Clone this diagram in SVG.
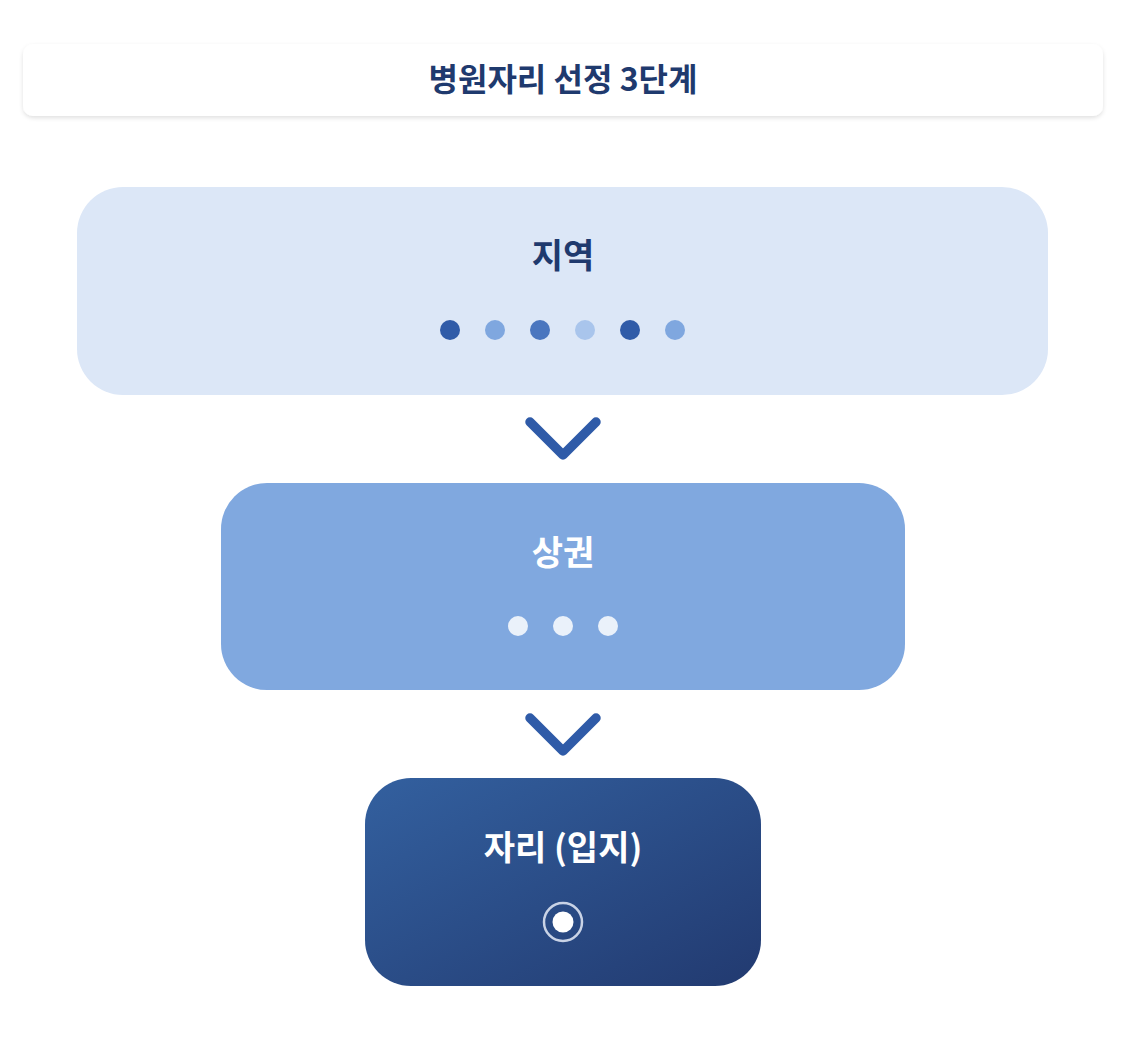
<svg xmlns="http://www.w3.org/2000/svg" width="1126" height="1060" viewBox="0 0 1126 1060">
<defs>
<style>
.t{font-family:"Noto Sans CJK KR","Noto Sans",sans-serif;font-weight:700;text-anchor:middle}
.chev{fill:none;stroke:#2f5ba8;stroke-width:9.5;stroke-linecap:round;stroke-linejoin:round}
</style>
<linearGradient id="g3" x1="0" y1="0" x2="1" y2="1">
<stop offset="0" stop-color="#33609f"/>
<stop offset="1" stop-color="#223a70"/>
</linearGradient>
<filter id="sh" x="-5%" y="-30%" width="110%" height="170%">
<feDropShadow dx="0" dy="2" stdDeviation="2" flood-color="#000" flood-opacity="0.12"/>
</filter>
</defs>
<rect width="1126" height="1060" fill="#fff"/>
<g id="title">
<rect x="23" y="44" width="1080" height="72" rx="10" fill="#fff" filter="url(#sh)"/>
<text class="t" x="563" y="91" font-size="32" fill="#1f3a6e">병원자리 선정 3단계</text>
</g>
<g id="node-region">
<rect x="77" y="187" width="971" height="208" rx="46" fill="#dce7f7"/>
<text class="t" x="563" y="268" font-size="34" fill="#1f3a6e">지역</text>
<circle cx="450" cy="330" r="10" fill="#2f5ba8"/>
<circle cx="495" cy="330" r="10" fill="#7fa7df"/>
<circle cx="540" cy="330" r="10" fill="#4a76bf"/>
<circle cx="585" cy="330" r="10" fill="#a9c5ec"/>
<circle cx="630" cy="330" r="10" fill="#2f5ba8"/>
<circle cx="675" cy="330" r="10" fill="#7fa7df"/>
</g>
<g id="node-commercial">
<rect x="221" y="483" width="684" height="207" rx="46" fill="#80a8df"/>
<text class="t" x="563" y="565" font-size="34" fill="#fff">상권</text>
<circle cx="518" cy="626" r="10" fill="#eaf1fa"/>
<circle cx="563" cy="626" r="10" fill="#eaf1fa"/>
<circle cx="608" cy="626" r="10" fill="#eaf1fa"/>
</g>
<g id="node-site">
<rect x="365" y="778" width="396" height="208" rx="46" fill="url(#g3)"/>
<text class="t" x="563" y="860" font-size="34" fill="#fff">자리 (입지)</text>
<circle cx="563" cy="922" r="19" fill="none" stroke="#c9d3e6" stroke-width="2.5"/>
<circle cx="563" cy="922" r="10.5" fill="#fff"/>
</g>
<g id="connectors">
<polyline class="chev" points="530,422 563,455 596,422"/>
<polyline class="chev" points="530,718 563,751 596,718"/>
</g>
</svg>
